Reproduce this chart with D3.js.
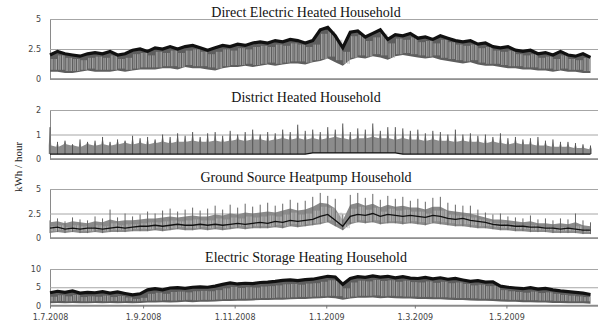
<!DOCTYPE html>
<html>
<head>
<meta charset="utf-8">
<script src="https://cdn.jsdelivr.net/npm/d3@7"></script>
<style>
  body { margin: 0; background: #fff; }
  svg { display: block; }
  .title { font-family: "Liberation Serif", "Times New Roman", serif; font-size: 14px; fill: #111; }
  .ylab { font-family: "Liberation Serif", "Times New Roman", serif; font-size: 11px; fill: #222; }
  .tick text { font-family: "DejaVu Sans", Verdana, sans-serif; font-size: 8px; fill: #444; }
</style>
</head>
<body>
<div id="chart"></div>
<script>
// samples every 5 days from 1.7.2008
const sampleStep = 5;
const xTickLabels = ["1.7.2008", "1.9.2008", "1.11.2008", "1.1.2009", "1.3.2009", "1.5.2009"];
const titles = ["Direct Electric Heated Household", "District Heated Household",
  "Ground Source Heatpump Household", "Electric Storage Heating Household"];

// Direct electric: upper edge of the dark band, bottom of the grey dips
const directTop = [2.0, 2.3, 2.1, 2.0, 1.9, 2.1, 2.2, 2.1, 2.3, 2.0, 2.1, 2.4, 2.5, 2.3,
  2.6, 2.5, 2.7, 2.5, 2.7, 2.8, 2.6, 2.4, 2.6, 2.8, 2.7, 2.9, 2.8, 3.0,
  3.1, 3.0, 3.2, 3.1, 3.3, 3.2, 3.0, 3.2, 4.1, 4.3, 3.6, 2.6, 3.9, 4.0,
  3.5, 3.8, 4.1, 3.3, 3.7, 3.6, 3.8, 3.4, 3.5, 3.3, 3.6, 3.4, 3.2, 3.1,
  3.2, 2.9, 3.0, 2.7, 2.6, 2.7, 2.4, 2.3, 2.4, 2.1, 2.2, 2.0, 2.3, 2.0,
  1.9, 2.1, 1.8];
const directLow = [0.6, 0.6, 0.5, 0.5, 0.6, 0.7, 0.6, 0.6, 0.6, 0.7, 0.6, 0.7, 0.8, 0.8,
  0.8, 0.9, 0.9, 0.8, 1.0, 0.9, 0.9, 0.8, 0.7, 0.9, 1.0, 1.0, 1.1, 1.0,
  1.1, 1.2, 1.1, 1.2, 1.3, 1.3, 1.2, 1.4, 1.5, 1.7, 1.4, 1.1, 1.6, 1.8,
  1.7, 1.9, 1.8, 1.6, 1.9, 2.0, 1.9, 1.8, 1.7, 1.8, 1.6, 1.5, 1.4, 1.3,
  1.4, 1.2, 1.1, 1.1, 1.0, 0.9, 0.9, 0.8, 0.8, 0.7, 0.7, 0.6, 0.7, 0.6,
  0.6, 0.5, 0.5];

// District heated: spike peaks, upper edge of dense grey, base line
const districtPeak = [1.3, 0.7, 0.75, 0.6, 0.8, 0.7, 0.75, 0.9, 0.7, 0.8, 0.75, 0.95, 0.85, 0.9,
  0.8, 1.0, 0.9, 1.05, 0.95, 1.1, 0.9, 1.05, 1.1, 0.95, 1.15, 1.0, 1.1, 1.2,
  1.0, 1.1, 1.05, 1.2, 1.1, 1.4, 1.15, 1.2, 1.1, 1.3, 1.2, 1.45, 1.1, 1.25,
  1.2, 1.45, 1.15, 1.3, 1.3, 1.25, 1.15, 1.2, 1.05, 1.15, 1.1, 1.0, 1.2, 1.0,
  1.05, 0.95, 1.0, 0.9, 1.05, 0.85, 0.9, 0.8, 0.85, 0.9, 0.75, 0.8, 0.7, 0.7,
  0.65, 0.6, 0.55];
const districtMid = [0.55, 0.5, 0.6, 0.55, 0.5, 0.6, 0.55, 0.6, 0.55, 0.6, 0.65, 0.6, 0.65, 0.6,
  0.65, 0.7, 0.65, 0.7, 0.7, 0.75, 0.7, 0.7, 0.75, 0.7, 0.75, 0.8, 0.75, 0.8,
  0.8, 0.75, 0.8, 0.85, 0.8, 0.85, 0.8, 0.85, 0.8, 0.85, 0.9, 0.85, 0.8, 0.85,
  0.85, 0.9, 0.85, 0.85, 0.8, 0.85, 0.8, 0.8, 0.75, 0.8, 0.75, 0.75, 0.7, 0.75,
  0.7, 0.7, 0.65, 0.7, 0.65, 0.6, 0.65, 0.6, 0.6, 0.55, 0.55, 0.5, 0.5, 0.5,
  0.45, 0.45, 0.4];
const districtBase = [0.2, 0.2, 0.2, 0.2, 0.2, 0.2, 0.2, 0.2, 0.2, 0.2, 0.2, 0.2, 0.2, 0.2,
  0.2, 0.2, 0.2, 0.2, 0.2, 0.2, 0.2, 0.2, 0.2, 0.2, 0.2, 0.2, 0.2, 0.2,
  0.2, 0.2, 0.2, 0.2, 0.2, 0.2, 0.2, 0.25, 0.25, 0.25, 0.25, 0.25, 0.25, 0.25,
  0.25, 0.25, 0.25, 0.25, 0.25, 0.2, 0.2, 0.2, 0.2, 0.2, 0.2, 0.2, 0.2, 0.2,
  0.2, 0.2, 0.2, 0.2, 0.2, 0.2, 0.2, 0.2, 0.2, 0.2, 0.2, 0.2, 0.2, 0.2,
  0.2, 0.2, 0.2];

// Ground source heatpump: spike peaks, upper edge of dense grey, median line, lows
const groundPeak = [1.8, 2.0, 1.7, 2.1, 1.9, 1.8, 2.2, 2.0, 2.9, 2.1, 2.5, 2.2, 2.4, 2.7,
  2.5, 2.8, 3.0, 2.7, 2.9, 3.1, 2.8, 3.0, 3.3, 2.9, 3.4, 3.1, 3.5, 3.2,
  3.4, 3.6, 3.3, 3.5, 3.9, 3.6, 3.8, 4.2, 4.6, 4.3, 4.0, 2.4, 4.4, 4.6,
  4.1, 4.5, 3.9, 4.3, 4.0, 4.2, 3.8, 4.0, 3.7, 4.1, 4.2, 3.6, 3.4, 3.3,
  3.3, 2.9, 2.6, 2.4, 2.5, 2.2, 2.1, 2.0, 2.3, 1.9, 2.0, 1.8, 2.0, 1.9,
  2.5, 1.8, 1.6];
const groundUpper = [1.6, 1.7, 1.5, 1.7, 1.6, 1.5, 1.7, 1.6, 1.9, 1.7, 1.8, 1.8, 1.9, 2.0,
  2.0, 2.1, 2.2, 2.1, 2.2, 2.3, 2.2, 2.2, 2.4, 2.3, 2.5, 2.4, 2.6, 2.5,
  2.6, 2.7, 2.6, 2.8, 3.0, 2.8, 2.9, 3.2, 3.6, 3.5, 3.0, 1.8, 3.4, 3.6,
  3.3, 3.5, 3.1, 3.4, 3.2, 3.3, 3.1, 3.1, 2.9, 3.2, 3.2, 2.8, 2.7, 2.6,
  2.5, 2.3, 2.1, 1.9, 1.9, 1.8, 1.7, 1.6, 1.7, 1.5, 1.5, 1.4, 1.5, 1.4,
  1.6, 1.3, 1.2];
const groundMid = [1.0, 1.1, 0.9, 1.0, 0.9, 1.0, 1.0, 0.9, 1.0, 1.1, 1.0, 1.1, 1.2, 1.2,
  1.3, 1.2, 1.3, 1.4, 1.3, 1.3, 1.4, 1.3, 1.4, 1.3, 1.4, 1.5, 1.4, 1.5,
  1.6, 1.5, 1.7, 1.6, 1.8, 1.7, 1.8, 1.9, 2.2, 2.4, 1.8, 1.2, 2.2, 2.4,
  2.3, 2.5, 2.2, 2.4, 2.3, 2.2, 2.3, 2.2, 2.1, 2.3, 2.2, 2.0, 1.9, 2.0,
  1.8, 1.7, 1.6, 1.4, 1.3, 1.3, 1.2, 1.2, 1.1, 1.1, 1.0, 1.0, 0.9, 1.0,
  0.9, 0.8, 0.8];
const groundLow = [0.5, 0.6, 0.5, 0.6, 0.5, 0.5, 0.6, 0.5, 0.6, 0.6, 0.6, 0.7, 0.7, 0.7,
  0.8, 0.7, 0.8, 0.9, 0.8, 0.8, 0.9, 0.8, 0.9, 0.8, 0.9, 1.0, 0.9, 1.0,
  1.0, 1.0, 1.1, 1.0, 1.2, 1.1, 1.2, 1.3, 1.4, 1.6, 1.2, 0.8, 1.4, 1.6,
  1.5, 1.6, 1.4, 1.5, 1.5, 1.4, 1.5, 1.4, 1.3, 1.5, 1.4, 1.3, 1.2, 1.2,
  1.1, 1.0, 1.0, 0.9, 0.8, 0.8, 0.7, 0.7, 0.6, 0.6, 0.6, 0.5, 0.5, 0.5,
  0.5, 0.4, 0.4];

// Electric storage heating: upper edge of the dark band, bottom of the grey dips
const storageTop = [3.5, 3.9, 3.6, 4.0, 3.4, 3.6, 3.5, 3.8, 3.4, 3.7, 3.3, 2.9, 3.2, 4.3,
  4.6, 4.3, 4.8, 4.9, 4.7, 5.0, 5.1, 5.0, 5.3, 5.8, 6.2, 5.9, 6.1, 6.0,
  6.3, 6.4, 6.6, 6.9, 7.0, 6.8, 7.1, 7.2, 7.6, 8.0, 7.8, 5.8, 7.4, 7.9,
  7.7, 8.1, 7.8, 8.0, 7.6, 7.9, 7.5, 7.4, 7.7, 7.3, 7.6, 7.2, 7.4, 7.0,
  6.6, 6.8, 6.4, 6.5, 5.3, 5.0, 4.8, 4.6, 4.9, 4.5, 4.7, 4.3, 4.0, 3.8,
  3.6, 3.4, 3.0];
const storageLow = [0.6, 0.7, 0.6, 0.7, 0.6, 0.6, 0.7, 0.6, 0.7, 0.6, 0.7, 0.6, 0.7, 0.8,
  0.8, 0.9, 0.8, 0.9, 1.0, 0.9, 1.0, 1.0, 1.1, 1.2, 1.2, 1.3, 1.3, 1.4,
  1.5, 1.5, 1.6, 1.6, 1.7, 1.8, 1.8, 1.9, 2.0, 2.1, 2.0, 1.6, 1.9, 2.1,
  2.1, 2.2, 2.0, 2.1, 2.0, 1.9, 1.9, 1.8, 1.8, 1.7, 1.7, 1.6, 1.5, 1.5,
  1.4, 1.3, 1.3, 1.2, 1.1, 1.0, 1.0, 0.9, 0.9, 0.8, 0.8, 0.7, 0.7, 0.6,
  0.6, 0.6, 0.5];

const yTicks = [[0, 2.5, 5], [0, 1, 2], [0, 2.5, 5], [0, 5, 10]];
const yMax = [5, 2, 5, 10];

const width = 605, height = 325;
const left = 50, right = 598;
// bottom (value 0) and top pixel rows of each panel
const panelBox = [[79, 19], [159, 110], [238, 189], [305.5, 269]];
const titleY = [17, 102, 182, 262];

const start = new Date(2008, 6, 1);
const end = new Date(2009, 6, 1);
const dayAt = i => d3.timeDay.offset(start, i * sampleStep);
const hoursAt = (i, h) => d3.timeHour.offset(dayAt(i), h);

const svg = d3.select('#chart').append('svg')
  .attr('width', width)
  .attr('height', height);

const x = d3.scaleTime().domain([start, end]).range([left, right]);

function drawFrame(p) {
  const y = d3.scaleLinear().domain([0, yMax[p]]).range(panelBox[p]);
  const g = svg.append('g');

  g.append('g')
    .attr('transform', `translate(${left},0)`)
    .call(d3.axisLeft(y).tickValues(yTicks[p]).tickSize(-(right - left)).tickPadding(9)
      .tickFormat(d3.format('~g')))
    .call(s => s.select('.domain').attr('stroke', '#8a8a8a'))
    .call(s => s.selectAll('.tick line').attr('stroke', '#a6a6a6'));

  g.append('text')
    .attr('class', 'title')
    .attr('x', 306)
    .attr('y', titleY[p])
    .attr('text-anchor', 'middle')
    .text(titles[p]);
  return { g, y };
}

// light gaps between the daily dips inside a grey band
function drawStreaks(g, y, top, low, color) {
  const idx = d3.range(top.length - 1);
  [20, 44, 80, 104].forEach(h => {
    g.selectAll(null)
      .data(idx)
      .enter().append('line')
      .attr('x1', i => x(hoursAt(i, h))).attr('x2', i => x(hoursAt(i, h)))
      .attr('y1', i => y(low[i]) - 2).attr('y2', i => y(top[i]) + 4)
      .attr('stroke', color)
      .attr('stroke-width', 0.8);
  });
}

// band panels: grey dips + dark upper band
function drawBand(p, top, low) {
  const { g, y } = drawFrame(p);
  const idx = d3.range(top.length);
  g.append('path')
    .datum(idx)
    .attr('fill', '#5e5e5e')
    .attr('d', d3.area().x(i => x(dayAt(i))).y0(i => y(low[i])).y1(i => y(top[i])));
  drawStreaks(g, y, top, low, '#b4b4b4');
  g.append('path')
    .datum(idx)
    .attr('fill', 'none')
    .attr('stroke', '#111')
    .attr('stroke-width', 3.2)
    .attr('d', d3.line().x(i => x(dayAt(i))).y(i => y(top[i])));
  drawZero(g, y);
}

// district: dense grey up to the middle level, narrow spikes at each sample
function drawDistrict(p, peak, mid, base) {
  const { g, y } = drawFrame(p);
  const pts = [];
  peak.forEach((v, i) => {
    pts.push({ t: hoursAt(i, -20), hi: mid[i], lo: base[i] });
    pts.push({ t: dayAt(i), hi: v, lo: base[i] });
    pts.push({ t: hoursAt(i, 20), hi: mid[i], lo: base[i] });
  });
  g.append('path')
    .datum(pts)
    .attr('fill', '#8c8c8c')
    .attr('d', d3.area().x(d => x(d.t)).y0(d => y(d.lo)).y1(d => y(d.hi)));
  drawSpikeLines(g, y, peak, base, '#555');
  drawMidLine(g, y, base);
  drawZero(g, y);
}

// ground source: grey band between lows and upper edge, spikes, median line
function drawGround(p, peak, upper, mid, low) {
  const { g, y } = drawFrame(p);
  const idx = d3.range(peak.length);
  g.append('path')
    .datum(idx)
    .attr('fill', '#8a8a8a')
    .attr('d', d3.area().x(i => x(dayAt(i))).y0(i => y(low[i])).y1(i => y(upper[i])));
  drawStreaks(g, y, upper, low, '#bdbdbd');
  drawSpikeLines(g, y, peak, low, '#666');
  drawMidLine(g, y, mid);
  drawZero(g, y);
}

function drawSpikeLines(g, y, peak, low, color) {
  g.selectAll(null)
    .data(peak)
    .enter().append('line')
    .attr('x1', (v, i) => x(dayAt(i))).attr('x2', (v, i) => x(dayAt(i)))
    .attr('y1', (v, i) => y(low[i])).attr('y2', v => y(v))
    .attr('stroke', color)
    .attr('stroke-width', 1);
}

function drawMidLine(g, y, vals) {
  g.append('path')
    .datum(vals)
    .attr('fill', 'none')
    .attr('stroke', '#111')
    .attr('stroke-width', 1.3)
    .attr('d', d3.line().x((v, i) => x(dayAt(i))).y(v => y(v)));
}

function drawZero(g, y) {
  g.append('line')
    .attr('x1', left).attr('x2', right)
    .attr('y1', y(0)).attr('y2', y(0))
    .attr('stroke', '#8a8a8a')
    .attr('stroke-width', 1.5);
}

drawBand(0, directTop, directLow);
drawDistrict(1, districtPeak, districtMid, districtBase);
drawGround(2, groundPeak, groundUpper, groundMid, groundLow);
drawBand(3, storageTop, storageLow);

// time axis under the last panel
const parseTick = d3.timeParse('%d.%m.%Y');
svg.append('g')
  .attr('transform', `translate(0,${panelBox[3][0]})`)
  .call(d3.axisBottom(x).tickValues(xTickLabels.map(parseTick)).tickSize(3).tickPadding(6)
    .tickFormat(d3.timeFormat('%-d.%-m.%Y')))
  .call(s => s.select('.domain').remove())
  .call(s => s.selectAll('.tick line').attr('stroke', '#777'));

svg.append('text')
  .attr('class', 'ylab')
  .attr('transform', 'translate(22,167) rotate(-90)')
  .attr('text-anchor', 'middle')
  .text('kWh / hour');
</script>
</body>
</html>
